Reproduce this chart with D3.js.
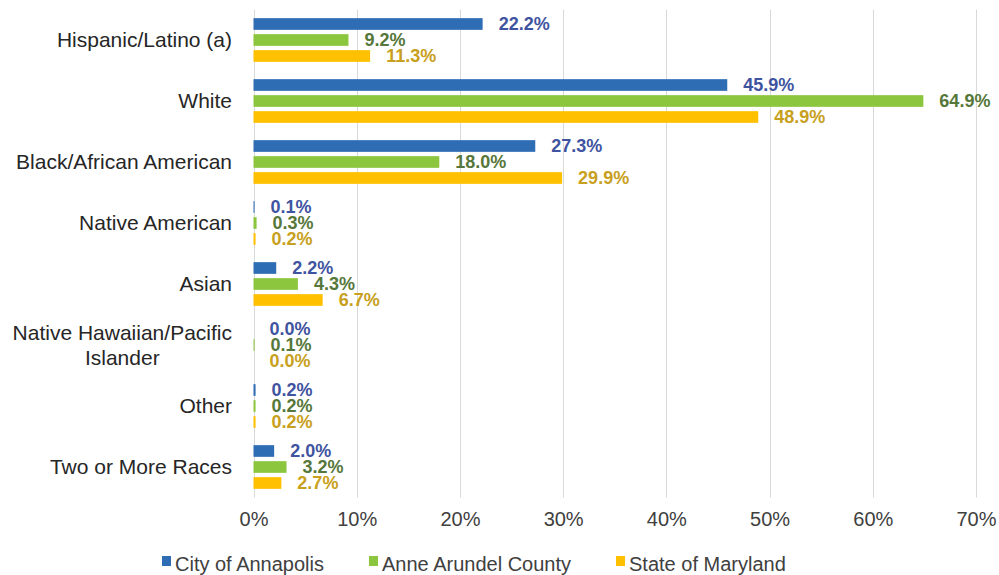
<!DOCTYPE html>
<html>
<head>
<meta charset="utf-8">
<script src="https://cdn.jsdelivr.net/npm/d3@7"></script>
<style>
  body { margin: 0; background: #fff; }
  svg { display: block; font-family: "Liberation Sans", Arial, sans-serif; }
</style>
</head>
<body>
<div id="chart"></div>
<script>
const width = 999
const height = 575

const categories = [
  'Hispanic/Latino (a)',
  'White',
  'Black/African American',
  'Native American',
  'Asian',
  'Native Hawaiian/Pacific|Islander',
  'Other',
  'Two or More Races'
]
const seriesNames = ['City of Annapolis', 'Anne Arundel County', 'State of Maryland']
const annapolis = [22.2, 45.9, 27.3, 0.1, 2.2, 0.0, 0.2, 2.0]
const anneArundel = [9.2, 64.9, 18.0, 0.3, 4.3, 0.1, 0.2, 3.2]
const maryland = [11.3, 48.9, 29.9, 0.2, 6.7, 0.0, 0.2, 2.7]
const ticks = [0, 10, 20, 30, 40, 50, 60, 70]

const barColors = ['#2e6db4', '#8cc63e', '#ffc000']
const labelColors = ['#3f54a0', '#56773a', '#c8a020']

const values = [annapolis, anneArundel, maryland]

const margin = {top: 9.5, left: 253.5, right: 23, bottom: 77.5}

const svg = d3.select('#chart')
  .append('svg')
  .attr('width', width)
  .attr('height', height)

const x = d3.scaleLinear()
  .domain([0, 70])
  .range([margin.left, width - margin.right])

const y0 = d3.scaleBand()
  .domain(categories)
  .range([margin.top, height - margin.bottom])
  .paddingInner(0.213)
  .paddingOuter(0.1065)

const y1 = d3.scaleBand()
  .domain(seriesNames)
  .range([0, y0.bandwidth()])
  .paddingInner(0.27)
  .paddingOuter(0.135)

// gridlines
svg.append('g')
  .selectAll('line')
  .data(ticks)
  .enter()
  .append('line')
  .attr('x1', d => Math.round(x(d)) + 0.5)
  .attr('x2', d => Math.round(x(d)) + 0.5)
  .attr('y1', margin.top)
  .attr('y2', height - margin.bottom)
  .attr('stroke', '#d9d9d9')
  .attr('stroke-width', 1)

// tick labels
const xAxis = svg.append('g')
  .attr('transform', `translate(0, ${height - margin.bottom + 11})`)
  .call(d3.axisBottom(x).tickValues(ticks).tickFormat(d => d + '%').tickSize(0))
xAxis.select('.domain').remove()
xAxis.selectAll('text')
  .attr('font-size', 20)
  .attr('font-family', '"Liberation Sans", Arial, sans-serif')
  .attr('fill', '#404040')

// category labels
const catG = svg.append('g')
categories.forEach(c => {
  const lines = c.split('|')
  const cy = y0(c) + y0.bandwidth() / 2
  const lh = 25
  const t = catG.append('text')
    .attr('font-size', 21)
    .attr('fill', '#262626')
  if (lines.length === 1) {
    t.attr('x', 232).attr('y', cy).attr('dy', '0.35em')
      .attr('text-anchor', 'end').text(c)
  } else {
    const tmp = lines.map((l, i) => t.append('tspan').text(l))
    const w = d3.max(tmp, s => s.node().getComputedTextLength())
    tmp.forEach((s, i) => {
      s.attr('x', 232 - w / 2)
        .attr('y', cy + (i - (lines.length - 1) / 2) * lh)
        .attr('dy', '0.35em')
        .attr('text-anchor', 'middle')
    })
  }
})

// bars
const groups = svg.append('g')
  .selectAll('g')
  .data(categories)
  .enter()
  .append('g')
  .attr('transform', d => `translate(0, ${y0(d)})`)

groups.selectAll('rect')
  .data((d, i) => seriesNames.map((s, j) => ({s, j, v: values[j][i]})))
  .enter()
  .append('rect')
  .attr('x', x(0))
  .attr('y', d => y1(d.s))
  .attr('width', d => x(d.v) - x(0))
  .attr('height', y1.bandwidth())
  .attr('fill', d => barColors[d.j])

groups.selectAll('text')
  .data((d, i) => seriesNames.map((s, j) => ({s, j, v: values[j][i]})))
  .enter()
  .append('text')
  .attr('x', d => x(d.v) + 16)
  .attr('y', d => y1(d.s) + y1.bandwidth() / 2)
  .attr('dy', '0.36em')
  .attr('font-size', 18)
  .attr('font-weight', 'bold')
  .attr('fill', d => labelColors[d.j])
  .text(d => d.v.toFixed(1) + '%')

// legend
const legend = svg.append('g')
const items = seriesNames.map((s, i) => {
  const g = legend.append('g')
  g.append('rect')
    .attr('width', 9)
    .attr('height', 10)
    .attr('y', -8)
    .attr('fill', barColors[i])
  g.append('text')
    .attr('x', 13)
    .attr('y', 0)
    .attr('dy', '0.33em')
    .attr('font-size', 20)
    .attr('fill', '#404040')
    .text(s)
  return g
})
let lx = 162
items.forEach(g => {
  g.attr('transform', `translate(${lx}, 564)`)
  lx += g.node().getBBox().width + 45
})
</script>
</body>
</html>
